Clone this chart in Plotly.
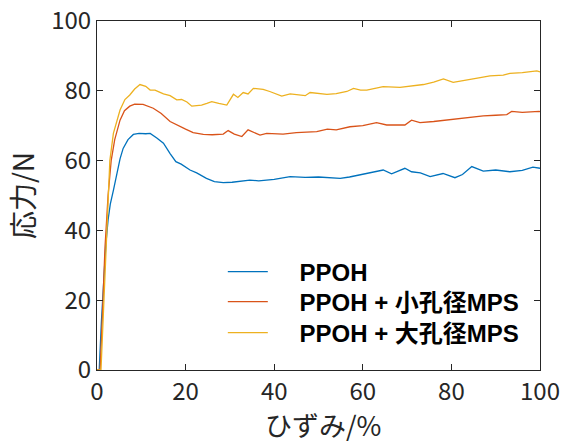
import plotly.graph_objects as go

# PPOH
x_ppoh = [0, 0.5, 1.0, 1.5, 2.0, 2.5, 3.0, 3.7, 4.5, 5.2, 5.9, 7.0, 8.2, 9.5, 11.0, 12.0, 13.5, 15.0, 16.5, 17.8,
          19.0, 21.0, 22.5, 24.7, 26.5, 28.5, 30.5, 32.5, 34.5, 36.5, 40, 43.6, 47, 50, 54.9, 57, 59.4, 62, 64.6,
          66.5, 68, 69.5, 71, 73, 75.2, 78.1, 80.8, 82.5, 84.6, 86, 87.2, 90, 93.2, 96, 98.4, 100]
y_ppoh = [0, 0, 14, 27, 36, 43, 47.5, 51.5, 56.5, 60.5, 63.5, 66, 67.5, 67.8, 67.7, 67.8, 66.5, 65, 62, 59.7,
          59, 57.3, 56.5, 54.9, 54, 53.7, 53.8, 54, 54.4, 54.2, 54.6, 55.4, 55.2, 55.3, 54.9, 55.3, 55.9, 56.5, 57.3,
          56.2, 57, 57.8, 56.8, 56.5, 55.4, 56.3, 55.1, 56, 58.3, 57.5, 57, 57.3, 56.8, 57.2, 58.1, 57.8]

# PPOH + small pore MPS
x_small = [0, 0.7, 1.2, 1.8, 2.5, 3.2, 4.0, 5.2, 6.2, 7.4, 8.5, 10.4, 12.7, 14.5, 16.5, 18, 20, 21.7, 24, 26,
           28.5, 29.6, 31, 32.7, 34.1, 36.8, 38.3, 42, 45, 49.6, 52, 54, 57.1, 60, 63.1, 65.4, 69.5, 71, 72.9, 76,
           79.7, 83, 87.2, 90, 92.5, 93.6, 96, 99.8, 100]
y_small = [0, 0, 15, 35, 50, 60, 66, 71.6, 74.3, 75.6, 76.2, 76.1, 75, 73.5, 71.2, 70.2, 69, 68, 67.5, 67.4,
           67.6, 68.6, 67.6, 66.9, 68.8, 67.3, 67.8, 67.6, 68, 68.3, 69, 68.8, 69.7, 70, 70.9, 70.2, 70.2, 71.6, 70.9, 71.2,
           71.8, 72.2, 72.8, 73, 73.2, 74.1, 73.8, 74.1, 74.0]

# PPOH + large pore MPS
x_large = [0, 0.9, 1.4, 2.0, 2.6, 2.9, 3.7, 5.2, 6.3, 7.4, 8.5, 9.7, 11, 12, 13.1, 15, 16.5, 18, 19.1, 20.3,
           21.4, 23.6, 24.8, 25.9, 27.5, 29.3, 30.8, 31.8, 33, 34.1, 35.3, 37.5, 39, 41.7, 43.6, 46, 47, 48.1, 51.9,
           54, 56.4, 57.9, 59.5, 60.9, 64.6, 68.4, 71, 73.7, 76, 78.2, 80.4, 82, 84.2, 86.5, 88.7, 91.7, 93.2, 96,
           99.3, 100]
y_large = [0, 0, 15, 35, 49.7, 60, 67.8, 74.5, 77.5, 78.8, 80.5, 81.8, 81.3, 80.2, 80.2, 79.1, 78.6, 77.4, 77.5, 76.8,
           75.6, 75.9, 76.4, 76.9, 76.4, 75.9, 79, 78.1, 79.5, 79.1, 80.7, 80.4, 79.8, 78.5, 79.1, 78.8, 78.6, 79.5, 79,
           79.2, 79.8, 80.7, 80.2, 80.2, 81.2, 81, 81.3, 81.8, 82.5, 83.4, 82.4, 82.8, 83.4, 83.8, 84.3, 84.5, 85, 85.2,
           85.7, 85.4]

names = ["PPOH", "PPOH + 小孔径MPS", "PPOH + 大孔径MPS"]
colors = ["#0072BD", "#D95319", "#EDB120"]
tick_vals = [0, 20, 40, 60, 80, 100]
x_title = "ひずみ/%"
y_title = "応力/N"

FONT = "Noto Sans CJK JP"
LEG_FONT = "Liberation Sans, Noto Sans CJK JP"

legend_ids = ["legend", "legend2", "legend3"]
legend_y = [0.281, 0.195, 0.106]

fig = go.Figure()
for xs, ys, n, c, lid in zip([x_ppoh, x_small, x_large], [y_ppoh, y_small, y_large], names, colors, legend_ids):
    fig.add_trace(go.Scatter(x=xs, y=ys, mode="lines", name="    " + n,
                             line=dict(color=c, width=1.3), legend=lid))

axis_common = dict(
    range=[0, 100], tickvals=tick_vals, ticks="inside", ticklen=6, tickcolor="#262626",
    showline=True, linecolor="#262626", linewidth=1, mirror="ticks", showgrid=False,
    zeroline=False, automargin=False, tickfont=dict(family=FONT, size=24, color="#262626"),
)

fig.update_xaxes(**axis_common)
fig.update_yaxes(**axis_common, title=dict(text=y_title, font=dict(family=FONT, size=28, color="#262626"), standoff=8))

fig.add_annotation(text=x_title, xref="paper", yref="paper", x=0.511, y=-0.157,
                   xanchor="center", yanchor="middle", showarrow=False,
                   font=dict(family=FONT, size=27, color="#262626"))

leg_common = dict(x=0.284, xanchor="left", yanchor="middle", bgcolor="rgba(0,0,0,0)",
                  font=dict(family=LEG_FONT, size=24, color="black", weight="bold"),
                  itemwidth=40)

fig.update_layout(
    width=563, height=442,
    margin=dict(l=97, r=23, t=21, b=72),
    paper_bgcolor="white", plot_bgcolor="white",
    showlegend=True,
)
for lid, ly in zip(legend_ids, legend_y):
    fig.update_layout({lid: dict(y=ly, **leg_common)})

fig.write_html("out.html")
